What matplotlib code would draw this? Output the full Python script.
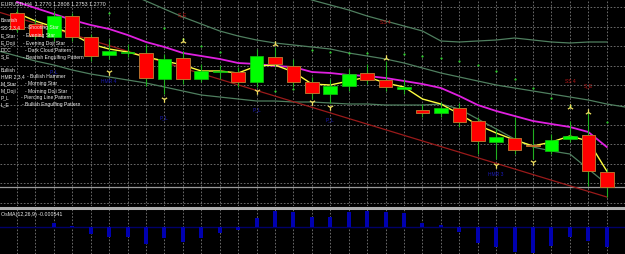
import numpy as np
import matplotlib
matplotlib.use("Agg")
import matplotlib.pyplot as plt
from matplotlib.lines import Line2D

# ---------------- data ----------------
bars = np.arange(33)
opens  = [1.2944, 1.2933, 1.2920, 1.2941, 1.2920, 1.2902, 1.2904, 1.2904, 1.2878, 1.2899,
          1.2878, 1.2885, 1.2885, 1.2875, 1.2900, 1.2891, 1.2875, 1.2863, 1.2871, 1.2884,
          1.2877, 1.2868, 1.2847, 1.2844, 1.2849, 1.2836, 1.2815, 1.2819, 1.2812, 1.2806,
          1.2818, 1.2822, 1.2785]
highs  = [1.2948, 1.2938, 1.2946, 1.2944, 1.2923, 1.2918, 1.2913, 1.2913, 1.2903, 1.2906,
          1.2893, 1.2892, 1.2890, 1.2908, 1.2910, 1.2898, 1.2880, 1.2878, 1.2888, 1.2893,
          1.2896, 1.2878, 1.2853, 1.2855, 1.2854, 1.2840, 1.2828, 1.2840, 1.2828, 1.2823,
          1.2836, 1.2846, 1.2788]
lows   = [1.2925, 1.2918, 1.2916, 1.2916, 1.2896, 1.2898, 1.2900, 1.2871, 1.2863, 1.2873,
          1.2875, 1.2878, 1.2870, 1.2870, 1.2890, 1.2870, 1.2858, 1.2854, 1.2866, 1.2873,
          1.2866, 1.2863, 1.2840, 1.2840, 1.2830, 1.2803, 1.2798, 1.2803, 1.2798, 1.2803,
          1.2815, 1.2771, 1.2760]
closes = [1.2928, 1.2921, 1.2941, 1.2920, 1.2901, 1.2906, 1.2905, 1.2879, 1.2898, 1.2878,
          1.2886, 1.2886, 1.2875, 1.2901, 1.2893, 1.2875, 1.2864, 1.2871, 1.2883, 1.2877,
          1.2870, 1.2870, 1.2844, 1.2849, 1.2835, 1.2816, 1.2820, 1.2807, 1.2811, 1.2817,
          1.2821, 1.2786, 1.2770]

ma_magenta = [1.2955, 1.2949, 1.2943, 1.2937, 1.2932, 1.2928, 1.2922, 1.2915, 1.2910, 1.2904,
              1.2901, 1.2898, 1.2894, 1.2893, 1.2891, 1.2890, 1.2885, 1.2884, 1.2882, 1.2881,
              1.2879, 1.2876, 1.2873, 1.2869, 1.2861, 1.2852, 1.2846, 1.2841, 1.2836, 1.2833,
              1.2830, 1.2825, 1.2810]
ma_yellow = [1.2944, 1.2936, 1.2930, 1.2923, 1.2913, 1.2908, 1.2905, 1.2900, 1.2896, 1.2892,
             1.2886, 1.2886, 1.2884, 1.2891, 1.2892, 1.2885, 1.2873, 1.2872, 1.2876, 1.2880,
             1.2874, 1.2870, 1.2858, 1.2853, 1.2843, 1.2832, 1.2824, 1.2817, 1.2811, 1.2815,
             1.2821, 1.2816, 1.2786]
nan = np.nan
band_upper = [nan]*15 + [1.2964, 1.2957, 1.2952, 1.2947, 1.2941, 1.2936, 1.2931, 1.2926, 1.2916,
                         1.2915, 1.2916, 1.2917, 1.2919, 1.2917, 1.2915, 1.2914, 1.2915, 1.2915]
band_mid_x = list(range(6, 34))
band_mid = [1.2964, 1.2956, 1.2948, 1.2940, 1.2933, 1.2926, 1.2921, 1.2917, 1.2914, 1.2912,
            1.2910, 1.2908, 1.2904, 1.2901, 1.2898, 1.2894, 1.2889, 1.2884, 1.2880, 1.2876,
            1.2872, 1.2869, 1.2866, 1.2863, 1.2860, 1.2857, 1.2853, 1.2850]
band_lower_x = list(range(-1, 33))
band_lower = [1.2906, 1.2901, 1.2896, 1.2892, 1.2887, 1.2883, 1.2880, 1.2877, 1.2874, 1.2870,
              1.2866, 1.2862, 1.2860, 1.2858, 1.2856, 1.2856, 1.2855, 1.2855, 1.2854, 1.2853,
              1.2853, 1.2852, 1.2852, 1.2852, 1.2853, 1.2848, 1.2838, 1.2828, 1.2818, 1.2810,
              1.2806, 1.2803, 1.2788, 1.2773]
sar = [nan, nan, nan, nan, nan, 1.2944, nan, nan, 1.2929, 1.2918, 1.2911, 1.2905, nan, nan,
       1.2866, 1.2868, 1.2907, 1.2905, 1.2904, 1.2904, nan, 1.2903, 1.2901, 1.2899, 1.2896,
       1.2892, 1.2886, 1.2878, 1.2869, 1.2859, 1.2851, nan, 1.2835]
trend_x = [-1, 32]
trend_y = [1.2945, 1.2760]
bid_price = 1.2770

frac_up_x = [9, 14, 20, 30, 31]
frac_up_y = [1.2916, 1.2913, 1.2899, 1.2850, 1.2845]
frac_dn_x = [5, 8, 13, 16, 17, 26, 28]
frac_dn_y = [1.2885, 1.2858, 1.2866, 1.2855, 1.2850, 1.2792, 1.2795]

bear_lbl = ["S_E", "SS 4", "SS 4", "S_E"]
bear_x = [9, 20, 30, 31]
bear_y = [1.2943, 1.2935, 1.2876, 1.2872]
bull_lbl = ["P_L", "HMR 4", "P_L", "P_L", "P_L", "HMR 3"]
bull_x = [2, 5, 8, 13, 17, 26]
bull_y = [1.2886, 1.2876, 1.2840, 1.2848, 1.2838, 1.2783]

osma = [0.00001, 0.00001, 0.00011, 0.00003, -0.00019, -0.00027, -0.00027, -0.00046, -0.00030,
        -0.00041, -0.00030, -0.00016, -0.00008, 0.00024, 0.00043, 0.00041, 0.00027, 0.00027,
        0.00041, 0.00043, 0.00041, 0.00038, 0.00011, 0.00005, -0.00014, -0.00043, -0.00054,
        -0.00068, -0.00070, -0.00051, -0.00027, -0.00038, -0.00054]

title_txt = "EURUSD,H4  1.2770 1.2808 1.2753 1.2770"
legend_rows = [("Bearish", ""), ("SS 2,3,4", "- Shooting Star"), ("E_Star", "- Evening Star"),
               ("E_Doji", "- Evening Doji Star"), ("DCC", "- Dark Cloud Pattern"),
               ("S_E", "- Bearish Engulfing Pattern"), ("Bullish", ""),
               ("HMR 2,3,4", "- Bullish Hammer"), ("M_Star", "- Morning Star"),
               ("M_Doji", "- Morning Doji Star"), ("P_L", "- Piercing Line Pattern"),
               ("L_E", "- Bullish Engulfing Pattern")]
osma_label = "OsMA(12,26,9) -0.000541"

# ---------------- figure ----------------
W, H = 625, 255
fig = plt.figure(figsize=(W/100, H/100), dpi=100, facecolor='black')
plt.rcParams['font.family'] = ['Liberation Sans', 'DejaVu Sans']
main_h = 207
ax = fig.add_axes([0, 1 - main_h/H, 1, main_h/H])
ax2 = fig.add_axes([0, 0, 1, 45/H])
xl = (-17/18.43, (W - 17)/18.43)
for a in (ax, ax2):
    a.set_facecolor('black')
    a.set_xlim(*xl)
    a.axis('off')
ax.set_ylim(1.2958 - main_h*0.0001, 1.2958)
ax2.set_ylim(-0.000729, 0.000486)

gcol = '#7a7a7a'
gls = (0, (2, 2))
for b in bars:
    ax.axvline(b, color=gcol, lw=0.6, ls=gls, zorder=0)
    ax2.axvline(b, color=gcol, lw=0.6, ls=gls, zorder=0)
for p in np.arange(1.2754, 1.2952, 0.00196):
    ax.axhline(p, color=gcol, lw=0.6, ls=gls, zorder=0)

ax.axhline(bid_price, color='#9a9a9a', lw=0.9, zorder=1)

bcol = '#4f7f5f'
ax.plot(bars, band_upper, color=bcol, lw=0.9, zorder=1)
ax.plot(band_mid_x, band_mid, color=bcol, lw=0.9, zorder=1)
ax.plot(band_lower_x, band_lower, color=bcol, lw=0.9, zorder=1)
ax.plot(trend_x, trend_y, color='#9a1a1a', lw=0.9, zorder=1)
ax.plot(bars, ma_magenta, color='#e020e0', lw=1.3, zorder=2)
ax.plot(bars, ma_yellow, color='#ffff40', lw=1.0, zorder=2)
ax.scatter(bars, sar, s=2.5, color='#30d030', zorder=2, linewidths=0)

o = np.array(opens); c = np.array(closes)
up = c >= o
ax.vlines(bars, lows, highs, color='#20b020', lw=0.8, zorder=3)
bottoms = np.minimum(o, c)
heights = np.maximum(np.abs(c - o), 0.00008)
ax.bar(bars[up], heights[up], bottom=bottoms[up], width=0.74,
       color='#00ff00', edgecolor='#10c010', lw=0.5, zorder=4)
ax.bar(bars[~up], heights[~up], bottom=bottoms[~up], width=0.74,
       color='#ff0000', edgecolor='#b8702c', lw=0.7, zorder=4)

ax.scatter(frac_up_x, frac_up_y, marker='2', s=22, color='#f0e060', lw=0.9, zorder=5)
ax.scatter(frac_dn_x, frac_dn_y, marker='1', s=22, color='#f0e060', lw=0.9, zorder=5)

fs = 3.6
for t, x, y in zip(bear_lbl, bear_x, bear_y):
    ax.text(x, y, t, color='#c01818', fontsize=fs, ha='center', va='center', zorder=6)
for t, x, y in zip(bull_lbl, bull_x, bull_y):
    ax.text(x, y, t, color='#1a1ab8', fontsize=fs, ha='center', va='center', zorder=6)

fig.text(1/W, 1 - 3.5/H, title_txt, color='#e8e8e8', fontsize=3.9, ha='left', va='center')
row_y = [21, 28, 36, 43, 50, 57, 71, 77, 84, 91, 98, 105]
desc_x = [0, 25, 23, 23, 25, 23, 0, 27, 25, 25, 21, 22]
for (lab, desc), yy, dx in zip(legend_rows, row_y, desc_x):
    if lab:
        fig.text(1/W, 1 - yy/H, lab, color='#f0f0f0', fontsize=fs, ha='left', va='center', zorder=10)
    if desc:
        fig.text(dx/W, 1 - yy/H, desc, color='#f0f0f0', fontsize=fs, ha='left', va='center', zorder=10)

# separator between panels
fig.add_artist(Line2D([0, 1], [1 - 208.5/H]*2, color='#b0b0b0', lw=2.2, transform=fig.transFigure))

ax2.axhline(0, color='#00006a', lw=1.0, zorder=1)
ax2.bar(bars, osma, width=0.22, color='#0000b0', zorder=2)
fig.text(1/W, 1 - 215/H, osma_label, color='#f0f0f0', fontsize=3.8, ha='left', va='center')

fig.savefig('out.png', dpi=100, facecolor='black')
